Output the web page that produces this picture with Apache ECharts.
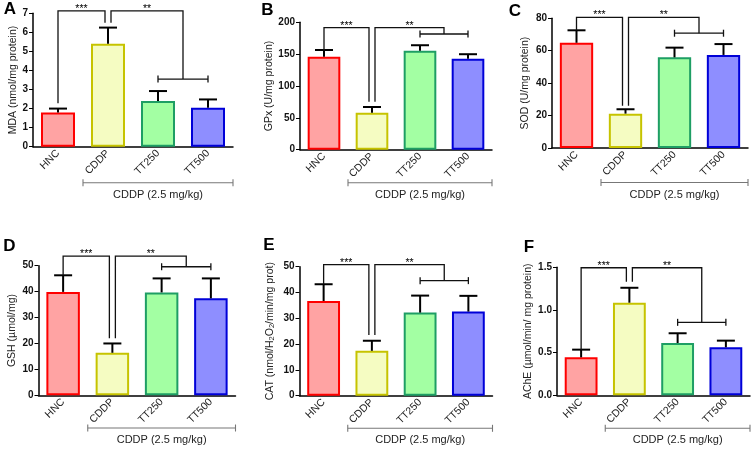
<!DOCTYPE html>
<html><head><meta charset="utf-8">
<script src="https://cdn.jsdelivr.net/npm/echarts@6/dist/echarts.min.js"></script>
<style>html,body{margin:0;padding:0;background:#fff}#c{width:753px;height:449px}</style>
</head><body><div id="c"></div>
<script>
// ---------- data ----------
const categories = ['HNC', 'CDDP', 'TT250', 'TT500'];
const groupLabel = 'CDDP (2.5 mg/kg)';
const panelLetters = ['A', 'B', 'C', 'D', 'E', 'F'];
const yNames = ['MDA (nmol/mg protein)', 'GPx (U/mg protein)', 'SOD (U/mg protein)',
  'GSH (\u00b5mol/mg)', 'CAT (nmol/H{s|2}O{s|2}/min/mg prot)', 'AChE (\u00b5mol/min/ mg protein)'];
const yMax = [7, 200, 80, 50, 50, 1.5];
const yInterval = [1, 50, 20, 10, 10, 0.5];
const yDecimals = [0, 0, 0, 0, 0, 1];

const mdaMean = [1.8, 5.4, 2.4, 2.05];
const mdaSem = [0.2, 0.85, 0.52, 0.43];
const gpxMean = [146, 58, 155.4, 142.9];
const gpxSem = [10.5, 9, 8.6, 7];
const sodMean = [64.9, 21.2, 55.9, 57.4];
const sodSem = [7.7, 2.7, 6, 6.7];
const gshMean = [39.9, 16.4, 39.7, 37.4];
const gshSem = [6.4, 3.6, 5.4, 7.7];
const catMean = [36.7, 17.4, 32.2, 32.6];
const catSem = [6.5, 3.9, 6.6, 6.1];
const acheMean = [0.445, 1.085, 0.613, 0.5625];
const acheSem = [0.09, 0.175, 0.114, 0.078];

// significance brackets: [top level, HNC leg end, CDDP leg end, TT group bar level]
const mdaSig = [7.13, 2.28, 6.5, 3.55];
const gpxSig = [191.5, 156.5, 75.4, 181.6];
const sodSig = [80.6, 72.6, 26, 70.8];
const gshSig = [53.7, 46.3, 22, 49.6];
const catSig = [50.8, 43.2, 23.5, 44.6];
const acheSig = [1.495, 0.535, 1.33, 0.855];
const sigStars = ['***', '**'];

const means = [mdaMean, gpxMean, sodMean, gshMean, catMean, acheMean];
const sems = [mdaSem, gpxSem, sodSem, gshSem, catSem, acheSem];
const sigs = [mdaSig, gpxSig, sodSig, gshSig, catSig, acheSig];

// ---------- styling / layout ----------
const FONT = 'Arial, "Liberation Sans", sans-serif';
const fills = ['#FFA3A3', '#F5FCC2', '#A3FFA3', '#8E8EFF'];
const borders = ['#FF0000', '#C6C300', '#1E9E64', '#0000D8'];
const layout = [
  {left: 33, top: 13.3, width: 200, height: 133.4, lx: 10, ly: 9, gap: 13, gOff: 36},
  {left: 300, top: 22.3, width: 192, height: 127.4, lx: 267.5, ly: 10, gap: 21, gOff: 33},
  {left: 552, top: 18.3, width: 196, height: 129.7, lx: 515, ly: 11, gap: 21, gOff: 34.5},
  {left: 38.5, top: 265.7, width: 197, height: 129.6, lx: 9.5, ly: 246.5, gap: 21, gOff: 32.7},
  {left: 299.5, top: 266.7, width: 193, height: 129, lx: 269, ly: 245, gap: 24, gOff: 32.6},
  {left: 557, top: 267.3, width: 193, height: 128, lx: 529, ly: 247, gap: 23, gOff: 33}
];

function errRender(params, api) {
  const x = api.value(0), lo = api.value(1), hi = api.value(2);
  const p0 = api.coord([x, lo]), p1 = api.coord([x, hi]);
  const half = 9;
  const st = {stroke: '#000', lineWidth: 2};
  return {type: 'group', children: [
    {type: 'line', shape: {x1: p0[0], y1: p0[1], x2: p1[0], y2: p1[1]}, style: st},
    {type: 'line', shape: {x1: p1[0] - half, y1: p1[1], x2: p1[0] + half, y2: p1[1]}, style: st}
  ]};
}

function makeSigRender(l) {
  return function (params, api) {
    const top = api.value(1), hE = api.value(2), cE = api.value(3), gY = api.value(4);
    const c0 = api.coord([0, 0]), c1 = api.coord([1, 0]), c2 = api.coord([2, 0]), c3 = api.coord([3, 0]);
    const yT = api.coord([0, top])[1], yH = api.coord([0, hE])[1];
    const yC = api.coord([0, cE])[1], yG = api.coord([0, gY])[1];
    const band = api.size([1, 0])[0];
    const x0 = c0[0], x1 = c1[0], x2 = c2[0], x3 = c3[0], xm = (x2 + x3) / 2;
    const ls = {stroke: '#111', lineWidth: 1.3, fill: null};
    const gs = {stroke: '#777', lineWidth: 1.1, fill: null};
    const yb = c0[1] + l.gOff;
    const gx0 = x1 - band / 2, gx1 = x3 + band / 2;
    const tick = 3.5;
    return {type: 'group', children: [
      {type: 'polyline', shape: {points: [[x0, yH], [x0, yT], [x1 - 3, yT], [x1 - 3, yC]]}, style: ls},
      {type: 'polyline', shape: {points: [[x1 + 3, yC], [x1 + 3, yT], [xm, yT], [xm, yG]]}, style: ls},
      {type: 'line', shape: {x1: x2, y1: yG, x2: x3, y2: yG}, style: ls},
      {type: 'line', shape: {x1: x2, y1: yG - tick, x2: x2, y2: yG + tick}, style: ls},
      {type: 'line', shape: {x1: x3, y1: yG - tick, x2: x3, y2: yG + tick}, style: ls},
      {type: 'text', style: {text: sigStars[0], x: (x0 + x1 - 3) / 2, y: yT + 3.5, align: 'center', verticalAlign: 'bottom', fontSize: 10.5, fontFamily: FONT, fill: '#000'}},
      {type: 'text', style: {text: sigStars[1], x: (x1 + 3 + xm) / 2, y: yT + 3.5, align: 'center', verticalAlign: 'bottom', fontSize: 10.5, fontFamily: FONT, fill: '#000'}},
      {type: 'line', shape: {x1: gx0, y1: yb, x2: gx1, y2: yb}, style: gs},
      {type: 'line', shape: {x1: gx0, y1: yb - tick, x2: gx0, y2: yb + tick}, style: gs},
      {type: 'line', shape: {x1: gx1, y1: yb - tick, x2: gx1, y2: yb + tick}, style: gs},
      {type: 'text', style: {text: groupLabel, x: (gx0 + gx1) / 2, y: yb + 12, align: 'center', verticalAlign: 'middle', fontSize: 11, fontFamily: FONT, fill: '#222'}}
    ]};
  };
}

const grid = [], xAxis = [], yAxis = [], series = [], graphic = [];
layout.forEach((l, i) => {
  grid.push({left: l.left, top: l.top, width: l.width, height: l.height, containLabel: false, outerBoundsMode: 'none'});
  xAxis.push({
    type: 'category', gridIndex: i, data: categories,
    axisLine: {lineStyle: {color: '#000', width: 1.5}},
    axisTick: {alignWithLabel: true, length: 4, lineStyle: {color: '#000', width: 1}},
    axisLabel: {rotate: 45, margin: 5, fontSize: 10.5, color: '#222', fontFamily: FONT}
  });
  const dec = yDecimals[i];
  yAxis.push({
    type: 'value', gridIndex: i, min: 0, max: yMax[i], interval: yInterval[i],
    splitLine: {show: false},
    axisLine: {show: true, lineStyle: {color: '#000', width: 1.5}},
    axisTick: {show: true, length: 4, lineStyle: {color: '#000', width: 1}},
    axisLabel: {fontSize: 10, fontWeight: 'bold', color: '#111', margin: 5, fontFamily: FONT,
      formatter: v => v.toFixed(dec)},
    name: yNames[i], nameLocation: 'middle', nameGap: l.gap,
    nameTextStyle: {fontSize: 10.5, color: '#222', fontFamily: FONT,
      rich: {s: {fontSize: 7.5, verticalAlign: 'bottom', fontFamily: FONT, color: '#222'}}}
  });
  series.push({
    type: 'bar', xAxisIndex: i, yAxisIndex: i, barWidth: '68%', silent: true,
    data: means[i].map((v, k) => ({value: v, itemStyle: {color: fills[k], borderColor: borders[k], borderWidth: 2}}))
  });
  series.push({
    type: 'custom', xAxisIndex: i, yAxisIndex: i, clip: false, silent: true, z: 5,
    encode: {x: 0, y: [1, 2]},
    renderItem: errRender,
    data: means[i].map((v, k) => [k, v, v + sems[i][k]])
  });
  series.push({
    type: 'custom', xAxisIndex: i, yAxisIndex: i, clip: false, silent: true, z: 6,
    encode: {x: 0, y: 1},
    renderItem: makeSigRender(l),
    data: [[0].concat(sigs[i])]
  });
  graphic.push({type: 'text', x: l.lx, y: l.ly, style: {text: panelLetters[i], fontSize: 17, fontWeight: 'bold', fontFamily: FONT, fill: '#000', align: 'center', verticalAlign: 'middle'}});
});

const chart = echarts.init(document.getElementById('c'), null, {renderer: 'canvas'});
chart.setOption({animation: false, backgroundColor: '#fff', grid, xAxis, yAxis, series, graphic});
</script></body></html>
